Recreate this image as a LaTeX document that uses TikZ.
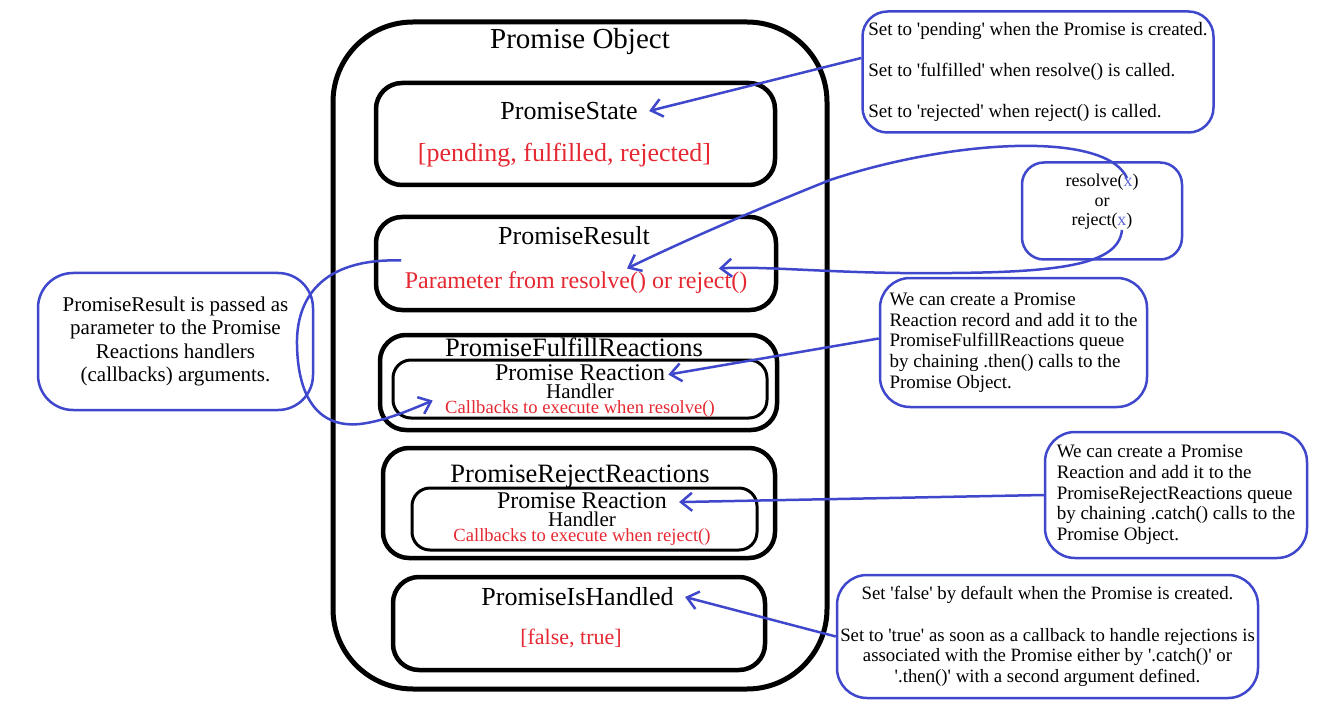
\documentclass[tikz,border=0pt]{standalone}
\usepackage{fontspec}
\setmainfont{Liberation Serif}
\usetikzlibrary{arrows.meta,positioning}

\definecolor{penblue}{RGB}{63,72,204}
\definecolor{penred}{RGB}{230,40,50}
\newcommand\qs{\textquotesingle}
\newcommand\rxhandler{\fontsize{21}{15}\selectfont Handler}
\newcommand\rxcallback[1]{\fontsize{18.6}{15}\selectfont\color{penred}Callbacks to execute when #1}

\begin{document}
\begin{tikzpicture}[
    x=1pt, y=-1pt,
    fs/.style 2 args={font=\fontsize{#1}{#2}\selectfont},
    field/.style={draw, line width=4.5pt, rounded corners=26pt},
    handler/.style={draw, line width=3pt, rounded corners=18pt},
    tight/.style={inner sep=0.3pt},
    rxtext/.style={tight, align=center, fs={24}{18}},
    note/.style={draw=penblue, line width=2.5pt, rounded corners=30pt, align=left, fs={19}{20.7}},
    value/.style={text=penred},
    link/.style={penblue, line width=2.5pt, -{Straight Barb[length=11pt,width=18pt]}}
]
\path[use as bounding box, fill=white] (0,0) rectangle (1331,714);

\node[field, line width=5pt, rounded corners=80pt, minimum width=494pt, minimum height=667pt] (po) at (580,355.5) {};
\node[fs={29}{32}] (po_title) at (580,42) {Promise Object};

\node[field, minimum width=399pt, minimum height=102pt] (po_state) at (575.5,134) {};
\node[fs={26}{30}] (state_name) at (569,111) {PromiseState};
\node[value, fs={26}{30}] (state_val) at (564.5,155) {[pending, fulfilled, rejected]};

\node[field, minimum width=400pt, minimum height=93pt] (po_result) at (576,263.5) {};
\node[fs={26}{30}] (result_name) at (574,236) {PromiseResult};
\node[value, fs={24}{28}] (result_val) at (576,283) {Parameter from resolve() or reject()};

\node[field, minimum width=397pt, minimum height=95pt] (po_fulfill) at (578.5,382.5) {};
\node[handler, minimum width=374pt, minimum height=58pt] (fulfill_rx) at (580,389) {};
\node[tight, fs={26.5}{30}] (fulfill_name) at (574,347) {PromiseFulfillReactions};
\node[rxtext] (fulfill_rx_text) at (580,391.5)
  {Promise Reaction\\{\rxhandler}\\[-3pt]{\rxcallback{resolve()}}};

\node[field, minimum width=392pt, minimum height=110pt] (po_reject) at (579,503) {};
\node[handler, minimum width=345pt, minimum height=62pt] (reject_rx) at (584.5,519) {};
\node[tight, fs={26.5}{30}] (reject_name) at (580,477) {PromiseRejectReactions};
\node[rxtext] (reject_rx_text) at (582,519)
  {Promise Reaction\\{\rxhandler}\\[-3pt]{\rxcallback{reject()}}};

\node[field, minimum width=372pt, minimum height=93pt] (po_handled) at (579,623.5) {};
\node[fs={26}{30}] (handled_name) at (577.5,597) {PromiseIsHandled};
\node[value, fs={22}{26}] (handled_val) at (571,638) {[false, true]};

\node[note, minimum width=351pt, minimum height=121pt, rounded corners=25pt] (state_note) at (1038,72)
  {Set to \qs pending\qs{} when the Promise is created.\\[20.7pt]
   Set to \qs fulfilled\qs{} when resolve() is called.\\[20.7pt]
   Set to \qs rejected\qs{} when reject() is called.};

\node[note, minimum width=160pt, minimum height=97pt, rounded corners=22pt] (res_box) at (1102,211) {};
\node[align=center, fs={18}{19.5}] (res_text) at (1102,202)
  {resolve(\textcolor{penblue!85}{x})\\or\\reject(\textcolor{penblue!85}{x})};
\coordinate (res_x) at (1127,178);
\coordinate (rej_x) at (1122,230);

\node[note, minimum width=267pt, minimum height=129pt] (fulfill_note) at (1013.5,342.5)
  {We can create a Promise\\Reaction record and add it to the\\PromiseFulfillReactions queue\\by chaining .then() calls to the\\Promise Object.};

\node[note, minimum width=262pt, minimum height=126pt] (reject_note) at (1176,495)
  {We can create a Promise\\Reaction and add it to the\\PromiseRejectReactions queue\\by chaining .catch() calls to the\\Promise Object.};

\node[note, align=center, fs={18.8}{20.7}, inner xsep=2pt, minimum width=421pt, minimum height=123pt] (handled_note) at (1047.5,636.5)
  {Set \qs false\qs{} by default when the Promise is created.\\[20.7pt]
   Set to \qs true\qs{} as soon as a callback to handle rejections is\\
   associated with the Promise either by \qs.catch()\qs{} or\\
   \qs.then()\qs{} with a second argument defined.};

\node[note, align=center, fs={21}{23.5}, minimum width=275pt, minimum height=137pt, rounded corners=35pt] (result_note) at (175.5,341.5)
  {PromiseResult is passed as\\parameter to the Promise\\Reactions handlers\\(callbacks) arguments.};

\draw[link] ([yshift=14pt]state_note.west) -- ([xshift=8pt]state_name.east);
\draw[link] (res_x) .. controls (1105,130) and (950,140) .. (830,180)
  .. controls (760,208) and (690,238) .. ([xshift=51pt]result_val.north);
\draw[link] (rej_x) .. controls (1118,268) and (1050,274) .. (900,273)
  .. controls (820,272) and (760,266) .. ([xshift=-32pt]result_val.north east);
\draw[link] ([yshift=4pt]fulfill_note.west) -- ([shift={(-47pt,-10pt)}]fulfill_rx_text.north east);
\draw[link] (reject_note.west) -- ([shift={(-32pt,-10pt)}]reject_rx_text.north east);
\draw[link] (handled_note.west) -- ([xshift=8pt]handled_name.east);
\draw[link] ([yshift=8pt]result_val.north west) .. controls (320,258) and (296,300) .. (297,345)
  .. controls (298,400) and (320,428) .. (360,424)
  .. controls (385,421) and (410,410) .. ([shift={(-12pt,-9pt)}]fulfill_rx_text.west);
\end{tikzpicture}
\end{document}
